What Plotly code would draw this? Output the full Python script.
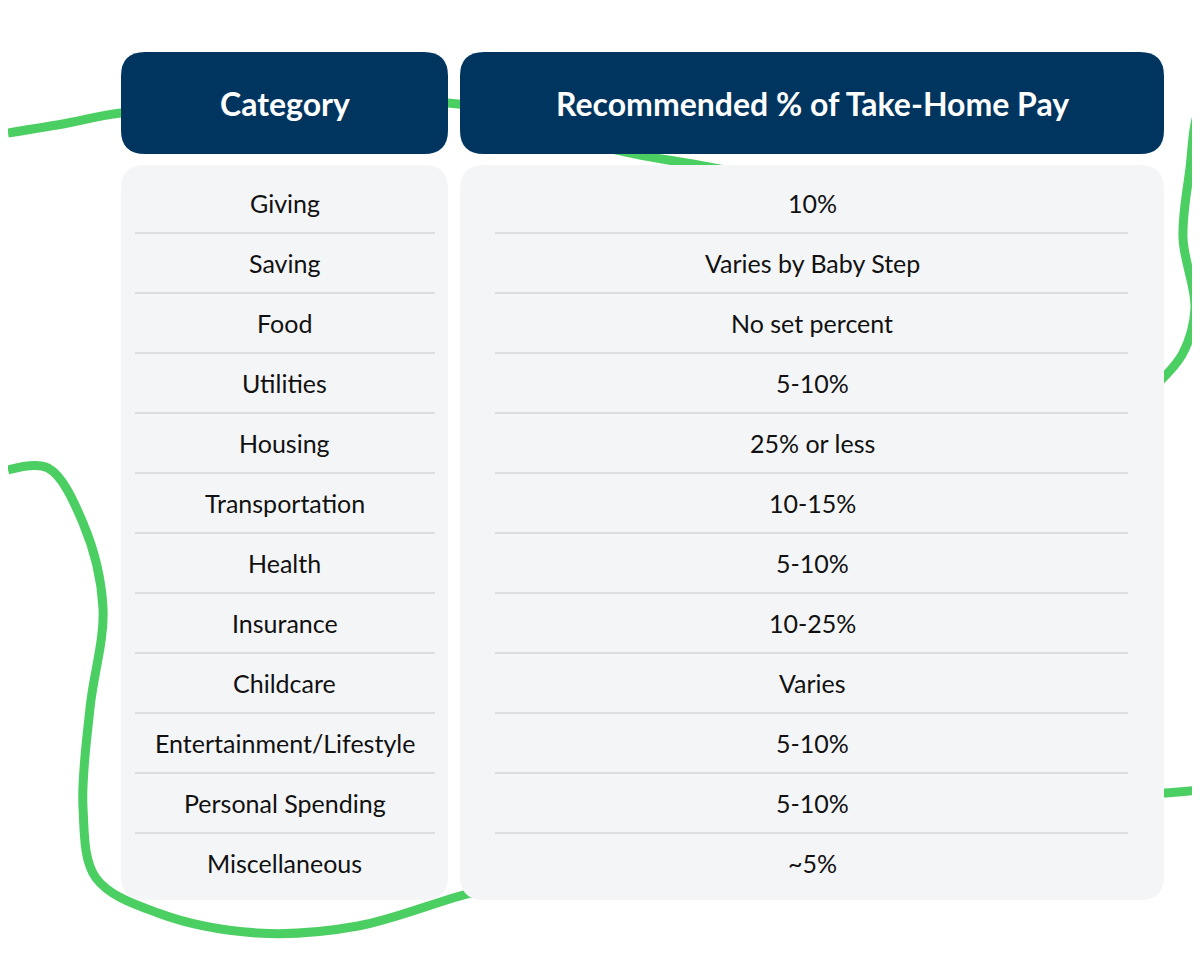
import plotly.graph_objects as go

categories = ["Giving","Saving","Food","Utilities","Housing","Transportation","Health",
              "Insurance","Childcare","Entertainment/Lifestyle","Personal Spending","Miscellaneous"]
recommended = ["10%","Varies by Baby Step","No set percent","5-10%","25% or less","10-15%",
               "5-10%","10-25%","Varies","5-10%","5-10%","~5%"]
headers = ["Category","Recommended % of Take-Home Pay"]

NAVY="#00355f"; PANEL="#f4f5f7"; GREEN="#4ccf62"; FONT="Lato"

def rrect(x0,y0,x1,y1,r):
    return (f"M{x0+r},{y0} L{x1-r},{y0} Q{x1},{y0} {x1},{y0+r} L{x1},{y1-r} Q{x1},{y1} {x1-r},{y1} "
            f"L{x0+r},{y1} Q{x0},{y1} {x0},{y1-r} L{x0},{y0+r} Q{x0},{y0} {x0+r},{y0} Z")

fig=go.Figure()
# decorative squiggles
deco=[
 ([0,60,113,300,440,520,600,690,760],[125,115,105,98,95,110,140,157,170]),
 ([1150,1175,1187,1175,1182,1190,1200],[375,345,300,230,160,105,95]),
 ([0,40,75,95,82,75,88,150,250,350,452,520],[462,460,515,600,700,800,870,905,925,918,888,870]),
 ([1140,1170,1200],[786,784,781]),
]
for xs,ys in deco:
    fig.add_trace(go.Scatter(x=xs,y=ys,mode="lines",line=dict(color=GREEN,width=9,shape="spline"),hoverinfo="skip"))

shapes=[]
cols=[(113,440,127,427),(452,1156,487,1120)]
for (x0,x1,s0,s1),h in zip(cols,headers):
    shapes.append(dict(type="path",path=rrect(x0,44,x1,146,24),fillcolor=NAVY,line_width=0,layer="above"))
    shapes.append(dict(type="path",path=rrect(x0,157,x1,892,24),fillcolor=PANEL,line_width=0,layer="above"))
    fig.add_annotation(x=(x0+x1)/2,y=95,text=f"<b>{h}</b>",showarrow=False,
                       font=dict(family=FONT,size=32,color="white"))
    for i in range(len(categories)-1):
        y=225+60*i
        shapes.append(dict(type="line",x0=s0,x1=s1,y0=y,y1=y,line=dict(color="#c4c6c8",width=1),layer="above"))
for i,(c,r) in enumerate(zip(categories,recommended)):
    y=195+60*i
    fig.add_annotation(x=276.5,y=y,text=c,showarrow=False,font=dict(family=FONT,size=25,color="#111"))
    fig.add_annotation(x=804,y=y,text=r,showarrow=False,font=dict(family=FONT,size=25,color="#111"))

fig.update_layout(shapes=shapes,width=1200,height=958,margin=dict(l=0,r=0,t=0,b=0),
    plot_bgcolor="white",paper_bgcolor="white",showlegend=False,
    xaxis=dict(range=[0,1200],visible=False,fixedrange=True),
    yaxis=dict(range=[958,0],visible=False,fixedrange=True))
fig.write_html("out.html",config={"displayModeBar":False})
